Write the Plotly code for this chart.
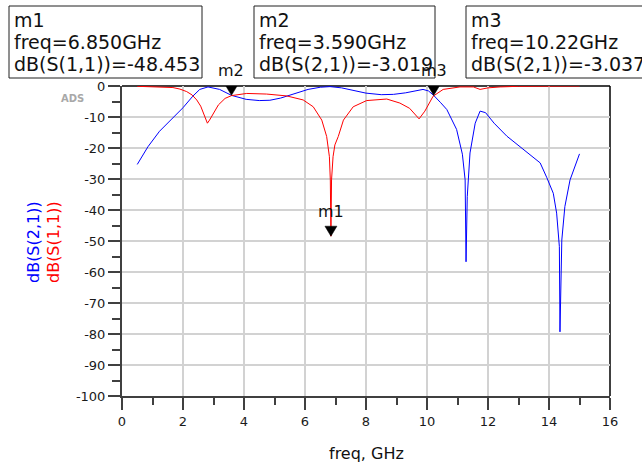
import plotly.graph_objects as go

# ---------------- data ----------------
s21_freq = [0.5, 0.85, 1.23, 1.61, 2.0, 2.32, 2.55, 2.82, 3.2, 3.59, 4.07, 4.5, 4.85,
            5.2, 5.5, 5.82, 6.1, 6.5, 6.82, 7.2, 7.57, 8.0, 8.5, 8.9, 9.3, 9.6, 9.87,
            10.05, 10.22, 10.45, 10.65, 10.97, 11.16, 11.25, 11.28, 11.32, 11.41, 11.58,
            11.74, 11.92, 12.2, 12.62, 13.16, 13.71, 13.93, 14.14, 14.25, 14.34, 14.36,
            14.42, 14.52, 14.69, 15.0]
s21_db = [-25.3, -19.6, -14.6, -10.8, -7.0, -3.3, -1.1, -0.3, -1.1, -3.02, -4.3, -4.7, -4.6,
          -3.9, -3.0, -2.0, -1.1, -0.4, -0.2, -0.6, -1.5, -2.3, -2.8, -2.7, -2.2, -1.6, -1.1,
          -1.6, -3.04, -5.4, -7.6, -14.0, -22.0, -30.3, -56.7, -35.7, -21.6, -12.0,
          -8.1, -8.6, -12.0, -16.2, -20.5, -24.8, -29.6, -34.6, -41.0, -51.8, -79.3,
          -49.7, -38.9, -30.3, -21.9]

s11_freq = [0.5, 1.0, 1.4, 1.67, 1.9, 2.12, 2.3, 2.45, 2.58, 2.67, 2.75, 2.8, 2.87, 2.94,
            3.05, 3.16, 3.38, 3.59, 4.09, 4.74, 5.4, 5.94, 6.27, 6.55, 6.71, 6.8, 6.83,
            6.85, 6.87, 6.92, 6.98, 7.09, 7.26, 7.58, 8.02, 8.68, 9.11, 9.43, 9.74, 9.93,
            10.2, 10.53, 11.08, 11.52, 11.74, 12.0, 12.4, 13.0, 14.0, 15.0]
s11_db = [-0.1, -0.2, -0.3, -0.5, -1.0, -1.8, -2.9, -4.5, -6.5, -8.8, -10.9, -12.0, -11.0, -9.9,
          -7.8, -6.1, -4.0, -3.1, -2.4, -2.6, -3.2, -4.5, -6.7, -11.0, -16.3, -22.8, -30.3,
          -48.453, -30.3, -22.8, -19.0, -16.3, -11.0, -6.7, -4.7, -4.2, -5.5, -7.2, -10.6, -8.1,
          -3.3, -1.1, -0.3, -0.3, -1.1, -0.6, -0.3, -0.1, -0.05, 0.0]

marker_names = ["m1", "m2", "m3"]
marker_freq = [6.850, 3.590, 10.22]
marker_db = [-48.453, -3.019, -3.037]
marker_freq_text = ["freq=6.850GHz", "freq=3.590GHz", "freq=10.22GHz"]
marker_val_text = ["dB(S(1,1))=-48.453", "dB(S(2,1))=-3.019", "dB(S(2,1))=-3.037"]

x_tick_vals = [0, 2, 4, 6, 8, 10, 12, 14, 16]
x_tick_text = ["0", "2", "4", "6", "8", "10", "12", "14", "16"]
y_tick_vals = [0, -10, -20, -30, -40, -50, -60, -70, -80, -90, -100]
y_tick_text = ["0", "-10", "-20", "-30", "-40", "-50", "-60", "-70", "-80", "-90", "-100"]

# ---------------- layout helpers ----------------
W, H = 642, 463
PL, PT, PR, PB = 122, 86, 32, 67
PW, PH = W - PL - PR, H - PT - PB
FONT = "DejaVu Sans"


def px(x):
    return (x - PL) / PW


def py(y):
    return (PT + PH - y) / PH


fig = go.Figure()
fig.add_trace(go.Scatter(x=s21_freq, y=s21_db, mode="lines", name="dB(S(2,1))",
                         line=dict(color="#0000ff", width=1)))
fig.add_trace(go.Scatter(x=s11_freq, y=s11_db, mode="lines", name="dB(S(1,1))",
                         line=dict(color="#ff0000", width=1)))

axis_common = dict(showline=True, linecolor="#404040", linewidth=2, ticks="outside",
                   ticklen=12, tickwidth=2, tickcolor="#404040", showgrid=True,
                   gridcolor="#d2d2d2", gridwidth=2, zeroline=False,
                   tickfont=dict(family=FONT, size=13, color="#1a1a1a"))

fig.update_xaxes(range=[0, 16], tickvals=x_tick_vals, ticktext=x_tick_text,
                 minor=dict(dtick=1, ticklen=7, tickwidth=2, tickcolor="#404040",
                            showgrid=False, ticks="outside"),
                 **axis_common)
fig.update_yaxes(range=[-100, 0], tickvals=y_tick_vals, ticktext=y_tick_text,
                 minor=dict(dtick=5, ticklen=8, tickwidth=2, tickcolor="#404040",
                            showgrid=False, ticks="outside"),
                 **axis_common)

shapes = [
    # top and right frame lines
    dict(type="line", xref="paper", yref="paper", x0=0, x1=1, y0=1, y1=1,
         line=dict(color="black", width=1.5), layer="between"),
    dict(type="line", xref="paper", yref="paper", x0=1, x1=1, y0=0, y1=1,
         line=dict(color="black", width=1.5), layer="between"),
]

annotations = []
box_left = [9, 254, 466]
box_right = [202, 435, 660]
box_top, box_bottom = 6, 78
for i in range(3):
    shapes.append(dict(type="rect", xref="paper", yref="paper",
                       x0=px(box_left[i]), x1=px(box_right[i]),
                       y0=py(box_bottom), y1=py(box_top),
                       line=dict(color="#202020", width=1), fillcolor="white"))
    for txt, yc in zip([marker_names[i], marker_freq_text[i], marker_val_text[i]], [20, 42, 64]):
        annotations.append(dict(xref="paper", yref="paper", x=px(box_left[i] + 3), y=py(yc),
                                xanchor="left", yanchor="middle", text=txt, showarrow=False,
                                font=dict(family=FONT, size=19, color="#111111")))
    # marker triangle on the trace
    shapes.append(dict(type="path", xref="x", yref="y", xsizemode="pixel", ysizemode="pixel",
                       xanchor=marker_freq[i], yanchor=marker_db[i],
                       path="M -6 10 L 6 10 L 0 0 Z", fillcolor="black",
                       line=dict(color="black", width=0.5), layer="above"))
    annotations.append(dict(x=marker_freq[i], y=marker_db[i], xref="x", yref="y",
                            yanchor="bottom", xanchor="center", yshift=13,
                            text=marker_names[i], showarrow=False,
                            font=dict(family=FONT, size=16, color="#111111")))

# y-axis titles (two stacked rotated labels)
annotations.append(dict(xref="paper", yref="paper", x=px(34), y=py(242), text="dB(S(2,1))",
                        textangle=-90, showarrow=False, xanchor="center", yanchor="middle",
                        font=dict(family=FONT, size=16, color="#0000ff")))
annotations.append(dict(xref="paper", yref="paper", x=px(54), y=py(242), text="dB(S(1,1))",
                        textangle=-90, showarrow=False, xanchor="center", yanchor="middle",
                        font=dict(family=FONT, size=16, color="#ff0000")))
# x-axis title
annotations.append(dict(xref="paper", yref="paper", x=px(366), y=py(453), text="freq, GHz",
                        showarrow=False, xanchor="center", yanchor="middle",
                        font=dict(family=FONT, size=16, color="#111111")))
# ADS watermark
annotations.append(dict(xref="paper", yref="paper", x=px(72), y=py(98), text="<b>ADS</b>",
                        showarrow=False, xanchor="center", yanchor="middle",
                        font=dict(family=FONT, size=10, color="#a8a8a8")))

fig.update_layout(width=W, height=H, margin=dict(l=PL, r=PR, t=PT, b=PB),
                  paper_bgcolor="white", plot_bgcolor="white", showlegend=False,
                  shapes=shapes, annotations=annotations)

fig.write_html("out.html", config={"displayModeBar": False},
               post_script="document.body.style.margin='0';document.body.style.overflow='hidden';")
